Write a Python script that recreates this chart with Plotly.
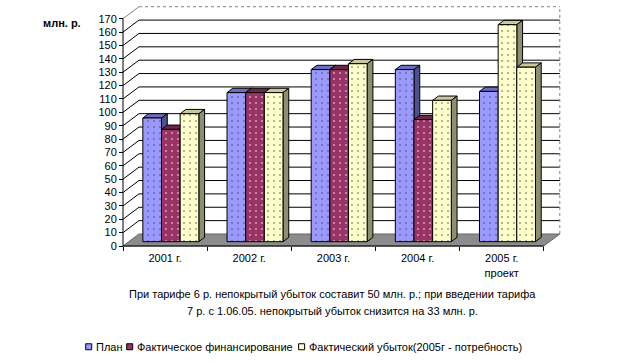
import plotly.graph_objects as go

# ---------------- data ----------------
categories = ["2001 г.", "2002 г.", "2003 г.", "2004 г.", "2005 г.<br>проект"]
series_names = ["План", "Фактическое финансирование", "Фактический убыток(2005г - потребность)"]
plan = [92.5, 111.5, 128.7, 128.7, 112.4]
financing = [84.0, 111.5, 128.7, 91.3, 162.3]
loss = [95.7, 111.5, 133.1, 105.7, 130.5]
y_tick_values = list(range(0, 171, 10))
y_unit_label = "млн. р."
caption_lines = [
    "При тарифе 6 р. непокрытый убыток составит 50 млн. р.; при введении тарифа",
    "7 р. с 1.06.05. непокрытый убыток снизится на 33 млн. р.",
]

# ---------------- styling ----------------
FONT = "Liberation Sans, Arial, sans-serif"
W, H = 617, 363
front_colors = ["#9999FF", "#993366", "#FFFFCC"]
dot_colors = ["#7070D8", "#6A1F45", "#E4E4B0"]
top_colors = ["#6C6CC4", "#6E2549", "#C9C99B"]
side_colors = ["#50508E", "#561C39", "#8E8E70"]
# the 2005 "financing" column is drawn in the light-yellow colour in the original
point_override = {(1, 4): 2}

# pixel geometry of the front plane
AX_X, AX_Y = 123.3, 245.7          # value axis x, category axis y (pixels)
CAT_PX = 84.2                      # pixel width of one category
UNIT_PX = 1.3376                   # pixels per value unit
L_PX, R_PX = 121.3, 561.5
T_PX, B_PX = 3.6, 247.7

XMIN = -0.5 - (AX_X - L_PX) / CAT_PX
XMAX = -0.5 + (R_PX - AX_X) / CAT_PX
YMIN = -(B_PX - AX_Y) / UNIT_PX
YMAX = (AX_Y - T_PX) / UNIT_PX

DX = 16 / CAT_PX                   # full depth shift (x units)
DY = 12 / UNIT_PX                  # full depth shift (y units)
GW = 0.665                         # group width
BW = GW / 3
F0 = 0.36                          # depth position of bar fronts
F1 = 0.36                          # bar thickness in depth
fx, fy = F0 * DX, F0 * DY
tx, ty = F1 * DX, F1 * DY


def px_x(p):
    return (p - L_PX) / (R_PX - L_PX)


def px_y(p):
    return (B_PX - p) / (B_PX - T_PX)


series = [plan, financing, loss]
n = len(categories)
idx = list(range(n))

fig = go.Figure()

shapes = []
# back wall
shapes.append(dict(type="rect", xref="x", yref="y", x0=-0.5 + DX, x1=n - 0.5 + DX,
                   y0=DY, y1=170 + DY, fillcolor="white", line=dict(width=0), layer="below"))
# grid lines on side wall and back wall
for v in y_tick_values[1:]:
    top = v == y_tick_values[-1]
    col = "#808080" if top else "black"
    dash = "dot" if top else "solid"
    shapes.append(dict(type="line", xref="x", yref="y", x0=-0.5, y0=v, x1=-0.5 + DX, y1=v + DY,
                       line=dict(color=col, width=1), layer="below"))
    shapes.append(dict(type="line", xref="x", yref="y", x0=-0.5 + DX, y0=v + DY, x1=n - 0.5 + DX,
                       y1=v + DY, line=dict(color=col, width=1, dash=dash), layer="below"))
# right edge of back wall
shapes.append(dict(type="line", xref="x", yref="y", x0=n - 0.5 + DX, y0=DY, x1=n - 0.5 + DX,
                   y1=170 + DY, line=dict(color="#808080", width=1, dash="dot"), layer="below"))
# floor
shapes.append(dict(type="path", xref="x", yref="y",
                   path=f"M{-0.5},0 L{n - 0.5},0 L{n - 0.5 + DX},{DY} L{-0.5 + DX},{DY} Z",
                   fillcolor="#8C8C8C", line=dict(color="#666666", width=1), layer="below"))

# 3D top and side faces of the columns
for i in idx:
    for k, vals in enumerate(series):
        ci = point_override.get((k, i), k)
        v = vals[i]
        xl = i - GW / 2 + k * BW + fx
        xr = xl + BW
        yb, yt = fy, fy + v
        shapes.append(dict(type="path", xref="x", yref="y",
                           path=f"M{xl},{yt} L{xr},{yt} L{xr + tx},{yt + ty} L{xl + tx},{yt + ty} Z",
                           fillcolor=top_colors[ci], line=dict(color="black", width=1), layer="below"))
        shapes.append(dict(type="path", xref="x", yref="y",
                           path=f"M{xr},{yb} L{xr},{yt} L{xr + tx},{yt + ty} L{xr + tx},{yb + ty} Z",
                           fillcolor=side_colors[ci], line=dict(color="black", width=1), layer="below"))

# axis lines (front edges)
shapes.append(dict(type="line", xref="x", yref="y", x0=-0.5, y0=0, x1=-0.5, y1=170,
                   line=dict(color="black", width=1), layer="above"))
shapes.append(dict(type="line", xref="x", yref="y", x0=-0.5, y0=0, x1=n - 0.5, y1=0,
                   line=dict(color="black", width=1), layer="above"))

# front faces of the columns
for k, (name, vals) in enumerate(zip(series_names, series)):
    cols = [front_colors[point_override.get((k, i), k)] for i in idx]
    dots = [dot_colors[point_override.get((k, i), k)] for i in idx]
    fig.add_trace(go.Bar(
        x=idx, y=vals, base=fy, offset=-GW / 2 + k * BW + fx, width=BW,
        name=name, showlegend=False,
        marker=dict(color=cols, line=dict(color="black", width=1),
                    pattern=dict(shape=".", fgcolor=dots, size=6, solidity=0.1)),
    ))

annotations = [
    dict(text=f"<b>{y_unit_label}</b>", xref="paper", yref="paper", x=px_x(62), y=px_y(22.7),
         showarrow=False, xanchor="center", yanchor="middle", font=dict(size=11, family=FONT, color="black")),
    dict(text=caption_lines[0], xref="paper", yref="paper", x=px_x(333), y=px_y(294),
         showarrow=False, xanchor="center", yanchor="middle", font=dict(size=11, family=FONT, color="black")),
    dict(text=caption_lines[1], xref="paper", yref="paper", x=px_x(333), y=px_y(310.7),
         showarrow=False, xanchor="center", yanchor="middle", font=dict(size=11, family=FONT, color="black")),
]

# legend (swatch + label), laid out like the original
legend_y = 346.5
legend_swatch_x = [89.0, 130.0, 302.0]
for k, name in enumerate(series_names):
    cx = legend_swatch_x[k]
    shapes.append(dict(type="rect", xref="paper", yref="paper",
                       x0=px_x(cx - 3), x1=px_x(cx + 3), y0=px_y(legend_y + 3), y1=px_y(legend_y - 3),
                       fillcolor=front_colors[k], line=dict(color="black", width=1), layer="above"))
    annotations.append(dict(text=name, xref="paper", yref="paper", x=px_x(cx + 5), y=px_y(legend_y),
                            showarrow=False, xanchor="left", yanchor="middle",
                            font=dict(size=11, family=FONT, color="black")))

fig.update_layout(
    width=W, height=H,
    margin=dict(l=L_PX, r=W - R_PX, t=T_PX, b=H - B_PX, autoexpand=False),
    paper_bgcolor="white", plot_bgcolor="rgba(0,0,0,0)",
    barmode="overlay",
    shapes=shapes, annotations=annotations,
    font=dict(family=FONT, size=11, color="black"),
    showlegend=False,
    xaxis=dict(range=[XMIN, XMAX], tickmode="array", tickvals=idx, ticktext=categories,
               ticks="outside", ticklen=2, tickcolor="rgba(0,0,0,0)",
               showgrid=False, zeroline=False, showline=False,
               anchor="free", position=px_y(AX_Y),
               minor=dict(tickmode="array", tickvals=[i - 0.5 for i in range(n + 1)],
                          ticks="outside", ticklen=4, tickcolor="black", tickwidth=1, showgrid=False),
               tickfont=dict(size=11, family=FONT, color="black"), fixedrange=True),
    yaxis=dict(range=[YMIN, YMAX], tickmode="array", tickvals=y_tick_values,
               ticks="outside", ticklen=4, tickcolor="black", tickwidth=1,
               showgrid=False, zeroline=False, showline=False,
               anchor="free", position=px_x(AX_X),
               tickfont=dict(size=11, family=FONT, color="black"), fixedrange=True),
)

fig.write_html("out.html", config={"displayModeBar": False},
               post_script="document.body.style.margin='0px';")
